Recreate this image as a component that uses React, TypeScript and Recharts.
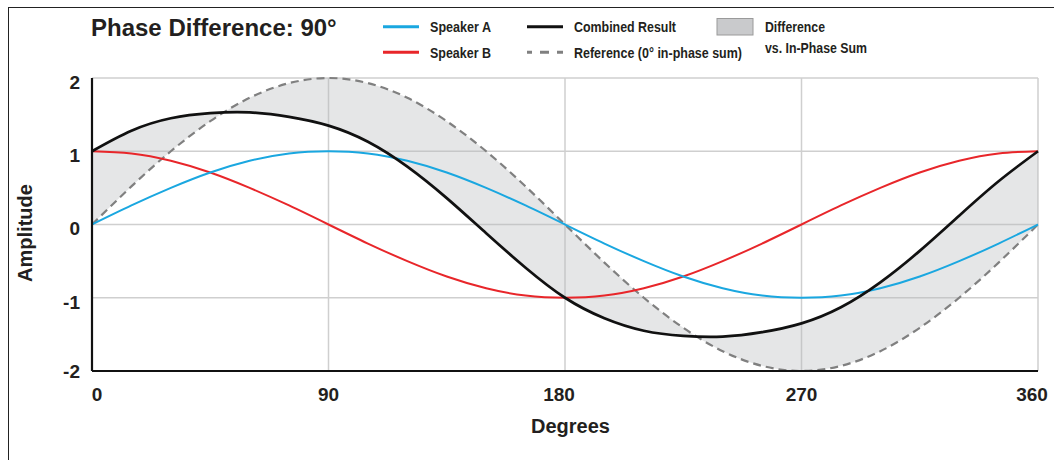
import { ComposedChart, Line, Area, XAxis, YAxis, CartesianGrid } from 'recharts';

// values every 15 degrees
const degrees = [0, 15, 30, 45, 60, 75, 90, 105, 120, 135, 150, 165, 180, 195, 210, 225, 240, 255, 270, 285, 300, 315, 330, 345, 360];
const speakerA = [0, 0.26, 0.5, 0.71, 0.87, 0.97, 1, 0.97, 0.87, 0.71, 0.5, 0.26, 0, -0.26, -0.5, -0.71, -0.87, -0.97, -1, -0.97, -0.87, -0.71, -0.5, -0.26, 0];
const speakerB = [1, 0.97, 0.87, 0.71, 0.5, 0.26, 0, -0.26, -0.5, -0.71, -0.87, -0.97, -1, -0.97, -0.87, -0.71, -0.5, -0.26, 0, 0.26, 0.5, 0.71, 0.87, 0.97, 1];
const combined = [1, 1.28, 1.45, 1.52, 1.53, 1.47, 1.35, 1.13, 0.79, 0.36, -0.12, -0.59, -1, -1.28, -1.45, -1.52, -1.53, -1.47, -1.35, -1.13, -0.79, -0.36, 0.12, 0.59, 1];
const reference = [0, 0.52, 1, 1.41, 1.73, 1.93, 2, 1.93, 1.73, 1.41, 1, 0.52, 0, -0.52, -1, -1.41, -1.73, -1.93, -2, -1.93, -1.73, -1.41, -1, -0.52, 0];

const xTicks = [0, 90, 180, 270, 360];
const yTicks = [-2, -1, 0, 1, 2];

const data = degrees.map((deg, i) => ({
  deg,
  a: speakerA[i],
  b: speakerB[i],
  sum: combined[i],
  ref: reference[i],
  diff: [combined[i], reference[i]],
}));

const FONT = '"Liberation Sans", Arial, Helvetica, sans-serif';
const INK = '#231f20';

const xNudge: Record<number, number> = { 0: 5, 180: -6, 360: -6 };

function XTick(props: any) {
  const { x, y, payload } = props;
  return (
    <text x={x + (xNudge[payload.value] || 0)} y={y + 13.7} textAnchor="middle" fontSize={19} fontWeight={700} fill={INK} fontFamily={FONT}>
      {payload.value}
    </text>
  );
}

function YTick(props: any) {
  const { x, y, payload } = props;
  const shift = payload.value === -2 ? 0 : 4;
  return (
    <text x={x} y={y + 6.8 + shift} textAnchor="end" fontSize={19} fontWeight={700} fill={INK} fontFamily={FONT}>
      {payload.value}
    </text>
  );
}

function Overlay() {
  const t = { fontFamily: FONT, fontWeight: 700, fill: INK, lengthAdjust: 'spacingAndGlyphs' } as const;
  return (
    <svg width={1054} height={460} style={{ position: 'absolute', left: 0, top: 0, pointerEvents: 'none' }}>
      <text x={91} y={36} fontSize={24} fontFamily={FONT} fontWeight={700} fill={INK}>Phase Difference: 90°</text>

      <line x1={383} x2={419} y1={26.7} y2={26.7} stroke="#1aa7e0" strokeWidth={3} />
      <text x={430} y={31.8} fontSize={15} textLength={61} {...t}>Speaker A</text>
      <line x1={383} x2={419} y1={52.3} y2={52.3} stroke="#e8262a" strokeWidth={3} />
      <text x={430} y={57.6} fontSize={15} textLength={61} {...t}>Speaker B</text>

      <line x1={527} x2={563} y1={26.7} y2={26.7} stroke="#111" strokeWidth={3} />
      <text x={574} y={31.8} fontSize={15} textLength={102} {...t}>Combined Result</text>
      <line x1={527} x2={563} y1={52.3} y2={52.3} stroke="#808080" strokeWidth={3} strokeDasharray="9 8" strokeDashoffset={4} />
      <text x={574} y={57.6} fontSize={15} textLength={168} {...t}>Reference (0° in-phase sum)</text>

      <rect x={717} y={18.5} width={36} height={16.5} fill="#c9cacc" stroke="#9a9a9a" strokeWidth={1} />
      <text x={765} y={31.6} fontSize={15} textLength={60} {...t}>Difference</text>
      <text x={765} y={53.2} fontSize={15} textLength={102} {...t}>vs. In-Phase Sum</text>

      <text x={25} y={233} fontSize={20} textAnchor="middle" dominantBaseline="central" transform="rotate(-90 25 233)" fontFamily={FONT} fontWeight={700} fill={INK}>Amplitude</text>
      <text x={570.5} y={432.7} fontSize={20} textAnchor="middle" fontFamily={FONT} fontWeight={700} fill={INK}>Degrees</text>
    </svg>
  );
}

export default function App() {
  return (
    <div style={{ position: 'fixed', left: 0, top: 0, width: 1054, height: 460, overflow: 'hidden', background: '#fff' }}>
      <div style={{ position: 'absolute', left: 8, top: 7, width: 1046, height: 1.3, background: '#222' }} />
      <div style={{ position: 'absolute', left: 8, top: 7, width: 1.3, height: 453, background: '#222' }} />
      <div style={{ position: 'absolute', left: 8, top: 8 }}>
        <ComposedChart width={1046} height={452} data={data} margin={{ top: 70, right: 16, bottom: 39, left: 0 }}>
          <CartesianGrid stroke="#cfcfcf" strokeWidth={1.5} />
          <XAxis
            dataKey="deg"
            type="number"
            domain={[0, 360]}
            ticks={xTicks}
            tickLine={false}
            tickMargin={10}
            height={50}
            axisLine={{ stroke: '#111', strokeWidth: 2.2 }}
            tick={<XTick />}
          />
          <YAxis
            type="number"
            domain={[-2, 2]}
            ticks={yTicks}
            tickLine={false}
            tickMargin={6}
            width={84}
            axisLine={{ stroke: '#111', strokeWidth: 2.2 }}
            tick={<YTick />}
          />
          <Area dataKey="diff" type="natural" stroke="none" fill="#b8babd" fillOpacity={0.36} isAnimationActive={false} activeDot={false} />
          <Line dataKey="ref" type="natural" stroke="#808080" strokeWidth={2.2} strokeDasharray="8 5" dot={false} activeDot={false} isAnimationActive={false} />
          <Line dataKey="b" type="natural" stroke="#e8262a" strokeWidth={2} dot={false} activeDot={false} isAnimationActive={false} />
          <Line dataKey="a" type="natural" stroke="#1aa7e0" strokeWidth={2} dot={false} activeDot={false} isAnimationActive={false} />
          <Line dataKey="sum" type="natural" stroke="#111" strokeWidth={2.7} dot={false} activeDot={false} isAnimationActive={false} />
        </ComposedChart>
      </div>
      <Overlay />
    </div>
  );
}
